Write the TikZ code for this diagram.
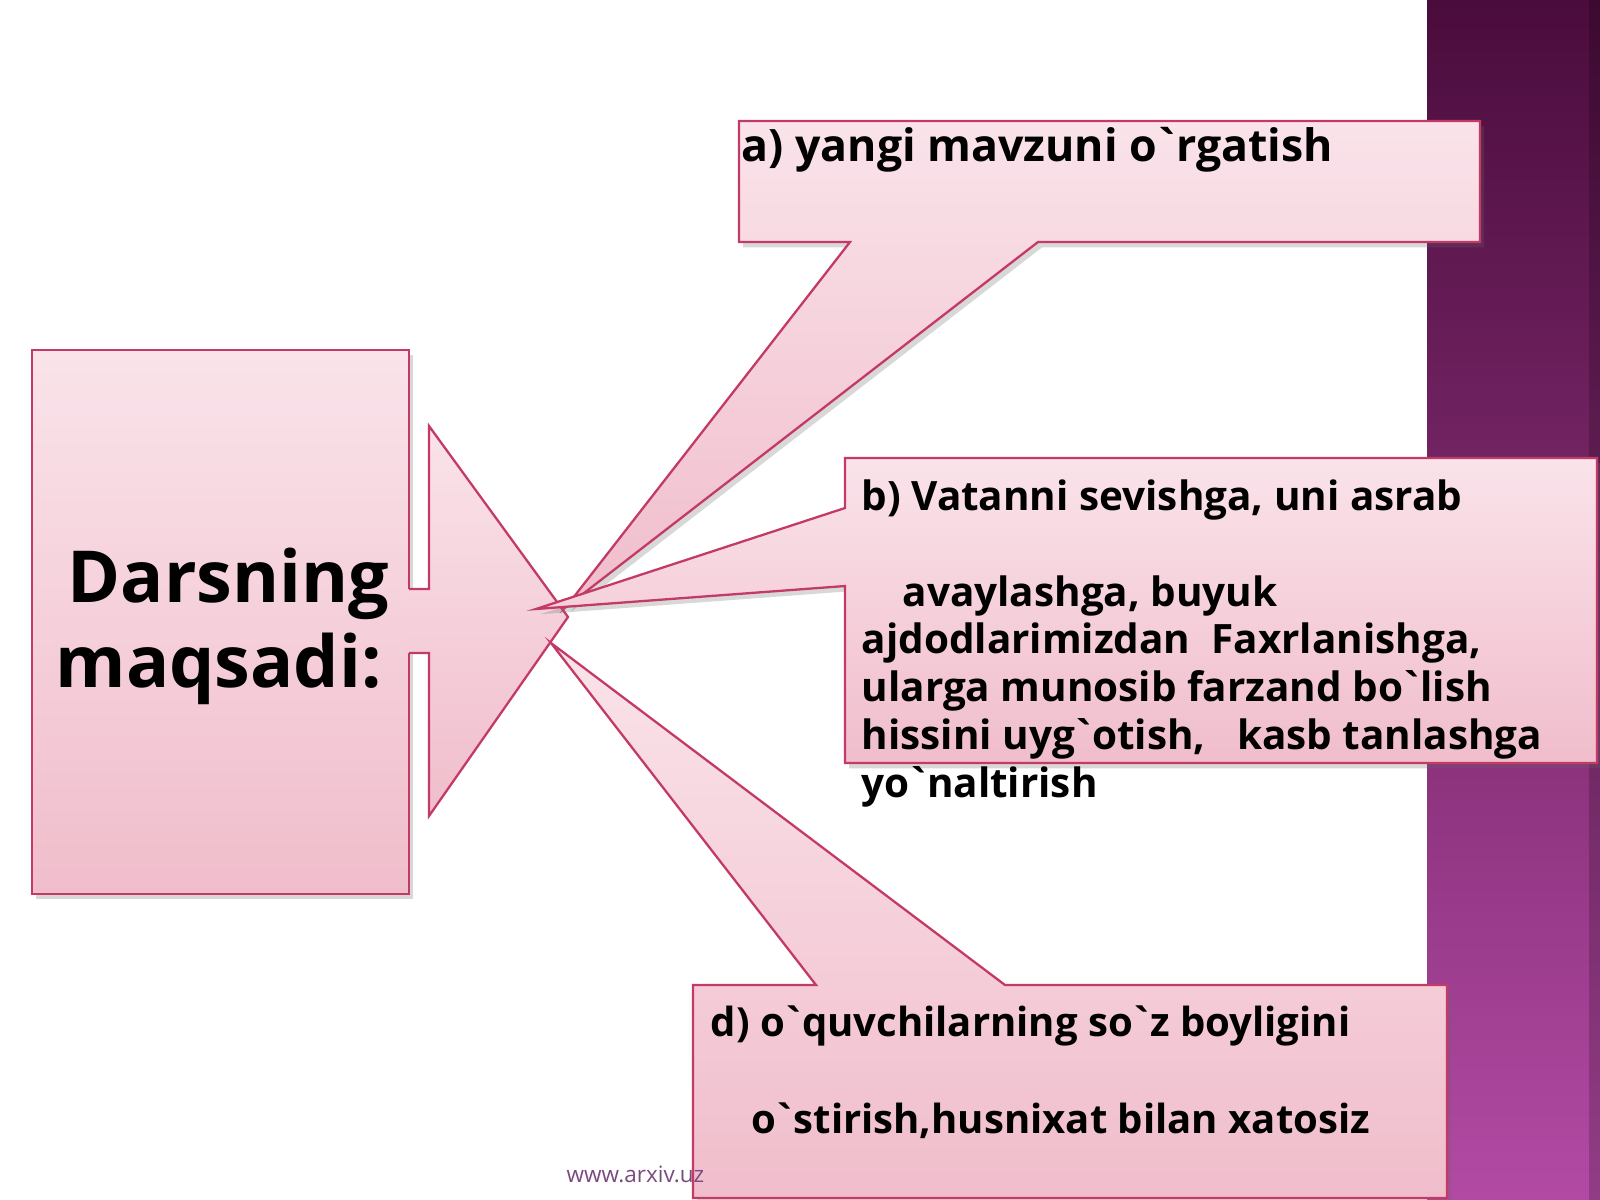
\documentclass[tikz,border=0pt]{standalone}
\usepackage{fontspec}
\newfontfamily\uzf{Open Sans}
\usetikzlibrary{shadows}
\definecolor{edgec}{HTML}{C43A66}
\definecolor{pinkTop}{HTML}{FAE3EA}
\definecolor{pinkBot}{HTML}{F0BDCB}
\definecolor{bandTop}{HTML}{4A0C3C}
\definecolor{bandMid}{HTML}{7E2A6E}
\definecolor{bandBot}{HTML}{B24AA4}
\definecolor{wmark}{HTML}{7A4A80}
\newcommand\gv{\kern-0.09em`\kern-0.09em}
\tikzset{
  shapebox/.style={draw=edgec, line width=0.65pt, top color=pinkTop, bottom color=pinkBot,
    drop shadow={shadow xshift=1.2pt, shadow yshift=-1.5pt, opacity=0.25, fill=black!60}},
  bigtxt/.style={anchor=base west, inner sep=0pt, font=\uzf\bfseries\fontsize{20.4}{24}\selectfont},
  atxt/.style={anchor=base west, inner sep=0pt, font=\uzf\bfseries\fontsize{12.7}{14}\selectfont},
  btxt/.style={anchor=base west, inner sep=0pt, font=\uzf\bfseries\fontsize{11.5}{13}\selectfont},
  dtxt/.style={anchor=base west, inner sep=0pt, font=\uzf\bfseries\fontsize{11.4}{13}\selectfont},
}
\begin{document}
\begin{tikzpicture}[x=0.01cm,y=-0.01cm]
\useasboundingbox (0,0) rectangle (1600,1200);
\fill[white] (0,0) rectangle (1600,1200);
% purple band on the right
\shade[top color=bandTop, bottom color=bandBot, middle color=bandMid] (1427,0) rectangle (1600,1200);
\fill[black, opacity=0.18] (1589,0) rectangle (1600,1200);

% left box
\path[shapebox] (32,350) rectangle (409,894);
% block arrow
\coordinate (atip) at (568,617);
\path[top color=pinkTop, bottom color=pinkBot] (405,589) -- (429,589) -- (429,426) -- (atip) -- (429,816) -- (429,653) -- (405,653) -- cycle;
\draw[edgec, line width=0.65pt, line join=miter] (409,589) -- (429,589) -- (429,426) -- (atip) -- (429,816) -- (429,653) -- (409,653);

% callout a
\coordinate (tipa) at (566,607);
\path[shapebox] (739,121) -- (1480,121) -- (1480,242) -- (1038,242) -- (tipa) -- (850,242) -- (739,242) -- cycle;
% callout b
\coordinate (tipb) at (536,609);
\path[shapebox] (845,458) -- (1597,458) -- (1597,763) -- (845,763) -- (845,586) -- (tipb) -- (845,508) -- cycle;
% callout d
\coordinate (tipd) at (551,643);
\path[shapebox] (693,985) -- (816,985) -- (tipd) -- (1005,985) -- (1447,985) -- (1447,1198) -- (693,1198) -- cycle;

% texts
\node[bigtxt] (t1) at (67,602) {Darsning};
\node[bigtxt] (t2) at (55,687) {maqsadi:};
\node[atxt] (ta) at (741,161) {a) yangi mavzuni o\gv rgatish};
\node[btxt] (tb1) at (861,510) {b) Vatanni sevishga, uni asrab};
\node[btxt] (tb2) at (902,606) {avaylashga, buyuk};
\node[btxt] (tb3) at (861,653) {ajdodlarimizdan\ \ Faxrlanishga,};
\node[btxt] (tb4) at (861,701) {ularga munosib farzand bo\gv lish};
\node[btxt] (tb5) at (861,749) {hissini uyg\gv otish,\ \ \ kasb tanlashga};
\node[btxt] (tb6) at (861,797) {yo\gv naltirish};
\node[dtxt] (td1) at (710,1036) {d) o\gv quvchilarning so\gv z boyligini};
\node[dtxt] (td2) at (751,1133) {o\gv stirish,husnixat bilan xatosiz};
\node[anchor=base west, inner sep=0pt, text=wmark, font=\uzf\fontsize{6.4}{7}\selectfont] (wm) at (566,1182) {www.arxiv.uz};
\end{tikzpicture}
\end{document}
